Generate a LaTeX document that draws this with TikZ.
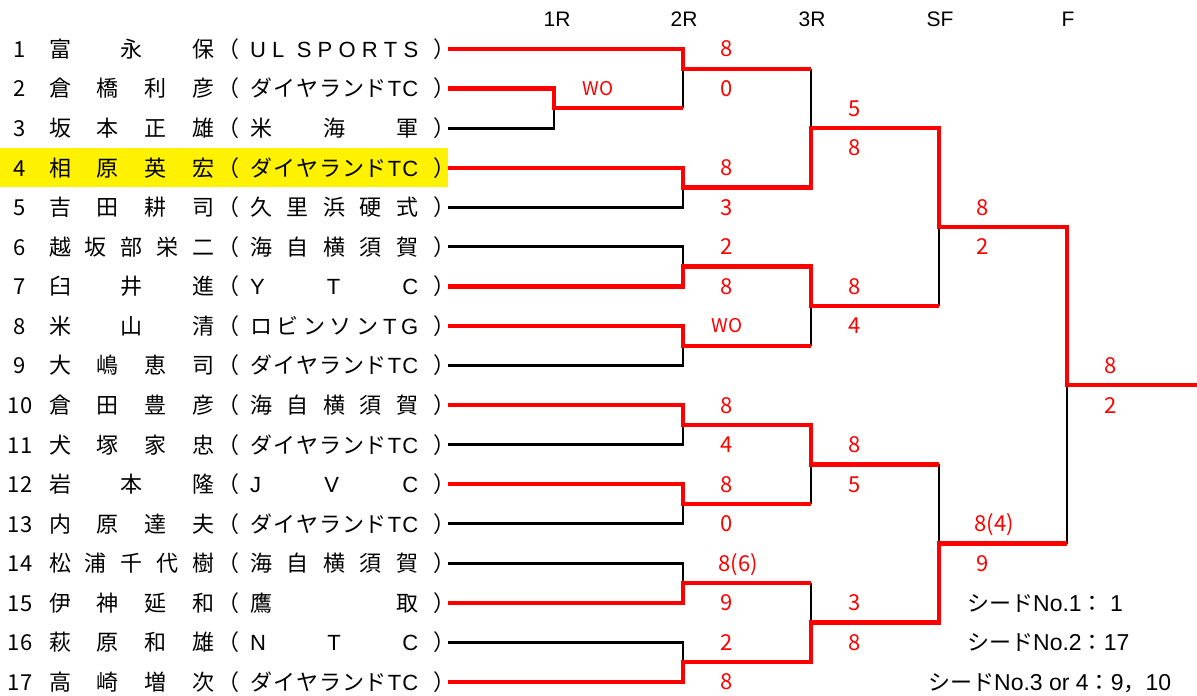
\documentclass[tikz,border=0pt]{standalone}
\usepackage{fontspec}
\setmainfont{Liberation Sans}
\newfontfamily\jp{Noto Sans CJK JP}
\newcommand\jpf{\jp\fontsize{22pt}{22pt}\selectfont}
\newcommand\laf{\rmfamily\fontsize{22pt}{22pt}\selectfont}
\newcommand\chgap{\hfill}
\newcommand\pname[1]{\makebox[165pt][s]{\jpf #1}}
\newcommand\pclub[1]{\makebox[168pt][s]{\laf #1}}
\newcommand\dtc{{\jpf ダ\chgap イ\chgap ヤ\chgap ラ\chgap ン\chgap ド}\chgap T\chgap C}
\newcommand\kyos{{\jpf 海\chgap 自\chgap 横\chgap 須\chgap 賀}}

\tikzset{
  lose/.style={line width=2.8pt, black},
  win/.style={line width=4.3pt, red},
  txt/.style={inner sep=0pt, text height=16.8pt, text depth=0pt, font=\jpf},
  score/.style={inner sep=0pt, text height=16pt, text depth=0pt, red,
    font=\jp\fontsize{22pt}{22pt}\selectfont},
  wo/.style={score, text height=13.6pt, font=\jp\fontsize{19pt}{19pt}\selectfont},
  rnd/.style={inner sep=0pt, text height=15pt, text depth=0pt,
    font=\rmfamily\fontsize{21pt}{21pt}\selectfont},
  seed/.style={inner sep=0pt, text height=16.5pt, text depth=0pt, anchor=west,
    font=\rmfamily\fontsize{23pt}{23pt}\selectfont},
}

\begin{document}
\begin{tikzpicture}[x=1pt, y=-39.56pt]
\useasboundingbox (0,-0.2386) rectangle (1197,17.355);

% seeded player
\fill[yellow] (0,3.5) rectangle (448,4.5);

% round titles
\node[rnd] (r1) at (557,0.24) {1R};
\node[rnd] (r2) at (684,0.24) {2R};
\node[rnd] (r3) at (812,0.24) {3R};
\node[rnd] (sf) at (940,0.24) {SF};
\node[rnd] (fi) at (1068,0.24) {F};

% players
\foreach \i/\nm/\cl in {
  1/{富\chgap 永\chgap 保}/{U\chgap L\chgap\chgap S\chgap P\chgap O\chgap R\chgap T\chgap S},
  2/{倉\chgap 橋\chgap 利\chgap 彦}/{\dtc},
  3/{坂\chgap 本\chgap 正\chgap 雄}/{{\jpf 米\chgap 海\chgap 軍}},
  4/{相\chgap 原\chgap 英\chgap 宏}/{\dtc},
  5/{吉\chgap 田\chgap 耕\chgap 司}/{{\jpf 久\chgap 里\chgap 浜\chgap 硬\chgap 式}},
  6/{越\chgap 坂\chgap 部\chgap 栄\chgap 二}/{\kyos},
  7/{臼\chgap 井\chgap 進}/{Y\chgap T\chgap C},
  8/{米\chgap 山\chgap 清}/{{\jpf ロ\chgap ビ\chgap ン\chgap ソ\chgap ン}\chgap T\chgap G},
  9/{大\chgap 嶋\chgap 恵\chgap 司}/{\dtc},
  10/{倉\chgap 田\chgap 豊\chgap 彦}/{\kyos},
  11/{犬\chgap 塚\chgap 家\chgap 忠}/{\dtc},
  12/{岩\chgap 本\chgap 隆}/{J\chgap V\chgap C},
  13/{内\chgap 原\chgap 達\chgap 夫}/{\dtc},
  14/{松\chgap 浦\chgap 千\chgap 代\chgap 樹}/{\kyos},
  15/{伊\chgap 神\chgap 延\chgap 和}/{{\jpf 鷹\chgap 取}},
  16/{萩\chgap 原\chgap 和\chgap 雄}/{N\chgap T\chgap C},
  17/{高\chgap 崎\chgap 増\chgap 次}/{\dtc}}{
  \node[txt] (num\i) at (20,\i) {\i};
  \node[txt, anchor=west] (name\i) at (49,\i) {\pname{\nm}};
  \node[txt] (lp\i) at (228,\i) {（};
  \node[txt, anchor=west] (club\i) at (250,\i) {\pclub{\cl}};
  \node[txt] (rp\i) at (444,\i) {）};
  \coordinate (e\i) at (448,\i);
}

% losing lines
\draw[lose] (e3) -- (554,3) -- (554,2.5);
\draw[lose] (683,1.5) -- (683,2.5);
\draw[lose] (e5) -- (683,5) -- (683,4.5);
\draw[lose] (811,1.5) -- (811,3);
\draw[lose] (e6) -- (683,6) -- (683,6.5);
\draw[lose] (e9) -- (683,9) -- (683,8.5);
\draw[lose] (811,7.5) -- (811,8.5);
\draw[lose] (939,5.5) -- (939,7.5);
\draw[lose] (e11) -- (683,11) -- (683,10.5);
\draw[lose] (e13) -- (683,13) -- (683,12.5);
\draw[lose] (811,11.5) -- (811,12.5);
\draw[lose] (e14) -- (683,14) -- (683,14.5);
\draw[lose] (e16) -- (683,16) -- (683,16.5);
\draw[lose] (811,14.5) -- (811,15.5);
\draw[lose] (939,11.5) -- (939,13.5);
\draw[lose] (1067,9.5) -- (1067,13.5);

% winning lines
\draw[win] (e2) -- (554,2) -- (554,2.5) -- (683,2.5);
\draw[win] (e1) -- (683,1) -- (683,1.5) -- (811,1.5);
\draw[win] (e4) -- (683,4) -- (683,4.5) -- (811,4.5) -- (811,3) -- (939,3)
           -- (939,5.5) -- (1067,5.5) -- (1067,9.5) -- (1197,9.5);
\draw[win] (e7) -- (683,7) -- (683,6.5) -- (811,6.5) -- (811,7.5) -- (939,7.5);
\draw[win] (e8) -- (683,8) -- (683,8.5) -- (811,8.5);
\draw[win] (e10) -- (683,10) -- (683,10.5) -- (811,10.5) -- (811,11.5) -- (939,11.5);
\draw[win] (e12) -- (683,12) -- (683,12.5) -- (811,12.5);
\draw[win] (e15) -- (683,15) -- (683,14.5) -- (811,14.5);
\draw[win] (e17) -- (683,17) -- (683,16.5) -- (811,16.5) -- (811,15.5) -- (939,15.5)
           -- (939,13.5) -- (1067,13.5);

% scores
\node[wo] (w1) at (598,2) {WO};
\foreach \r/\s in {1/8, 2/0, 4/8, 5/3, 6/2, 7/8, 10/8, 11/4, 12/8, 13/0, 15/9, 16/2, 17/8}
  \node[score] (a\r) at (727,\r) {\s};
\node[wo] (w8) at (727,8) {WO};
\node[score] (a14) at (738,14) {8(6)};
\foreach \r/\s in {2.5/5, 3.5/8, 7/8, 8/4, 11/8, 12/5, 15/3, 16/8}
  \node[score] (b\r) at (855,\r) {\s};
\node[score] (c5) at (983,5) {8};
\node[score] (c6) at (983,6) {2};
\node[score] (c13) at (994,13) {8(4)};
\node[score] (c14) at (983,14) {9};
\node[score] (d9) at (1111,9) {8};
\node[score] (d10) at (1111,10) {2};

% seeds
\node[seed] (seed1) at (967,15) {{\jpf シード}No.1{\jpf ：}\ 1};
\node[seed] (seed2) at (967,16) {{\jpf シード}No.2{\jpf ：}17};
\node[seed] (seed3) at (928,17) {{\jpf シード}No.3 or 4{\jpf ：}9{\jpf ，}10};
\end{tikzpicture}
\end{document}
